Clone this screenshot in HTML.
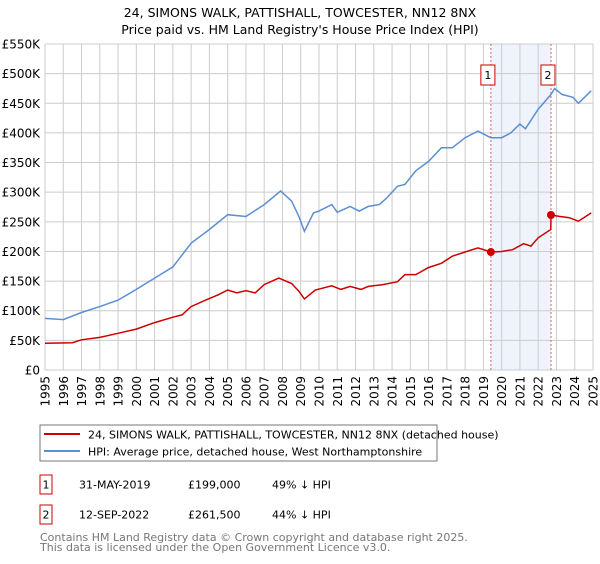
<!DOCTYPE html>
<html><head><meta charset="utf-8"><style>
body{margin:0;width:600px;height:560px;background:#fff;font-family:"DejaVu Sans","Liberation Sans",sans-serif;overflow:hidden}
</style></head><body>
<svg width="600" height="560" xmlns="http://www.w3.org/2000/svg" font-family="DejaVu Sans, Liberation Sans, sans-serif">
<text x="300" y="17" text-anchor="middle" font-size="12.5">24, SIMONS WALK, PATTISHALL, TOWCESTER, NN12 8NX</text>
<text x="300" y="34" text-anchor="middle" font-size="12.5">Price paid vs. HM Land Registry's House Price Index (HPI)</text>
<g id="grid"></g><g id="axes"></g><g id="series"></g>
<g>
<rect x="40" y="425" width="397" height="36" fill="#fff" stroke="#777"/>
<line x1="44" y1="434" x2="80" y2="434" stroke="#cc0000" stroke-width="2"/>
<text x="88" y="438.5" font-size="11">24, SIMONS WALK, PATTISHALL, TOWCESTER, NN12 8NX (detached house)</text>
<line x1="44" y1="451" x2="80" y2="451" stroke="#5b8fd3" stroke-width="2"/>
<text x="88" y="455.5" font-size="11">HPI: Average price, detached house, West Northamptonshire</text>
</g>
<g font-size="11">
<rect x="40" y="475" width="12" height="19" fill="#fff" stroke="#cc0000"/><text x="46" y="488.5" text-anchor="middle">1</text>
<text x="79" y="488.5">31-MAY-2019</text><text x="188" y="488.5">£199,000</text><text x="272" y="488.5">49% ↓ HPI</text>
<rect x="40" y="505" width="12" height="19" fill="#fff" stroke="#cc0000"/><text x="46" y="518.5" text-anchor="middle">2</text>
<text x="79" y="518.5">12-SEP-2022</text><text x="188" y="518.5">£261,500</text><text x="272" y="518.5">44% ↓ HPI</text>
</g>
<text x="40" y="541" font-size="11" fill="#777">Contains HM Land Registry data © Crown copyright and database right 2025.</text>
<text x="40" y="551" font-size="11" fill="#777">This data is licensed under the Open Government Licence v3.0.</text>
</svg>
<script>
const hpiYears=[1995,1996,1997,1998,1999,2000,2001,2002,2003,2004,2005,2006,2007,2007.9,2008.5,2008.9,2009.2,2009.7,2010,2010.7,2011,2011.7,2012.2,2012.7,2013.3,2013.7,2014.3,2014.7,2015.3,2016,2016.7,2017.3,2018,2018.7,2019.4,2020,2020.5,2021,2021.3,2022,2022.7,2022.9,2023.3,2023.9,2024.2,2024.9];
const hpiValues=[87,85,97,107,118,136,155,174,214,237,262,259,279,302,285,259,234,265,268,279,266,276,268,276,279,290,310,313,336,352,375,375,392,403,392,392,400,415,407,440,465,475,465,460,450,471];
const ppYears=[1995,1996.5,1997,1998,1999,2000,2001,2002,2002.5,2003,2003.8,2004.5,2005,2005.5,2006,2006.5,2007,2007.8,2008.5,2008.9,2009.2,2009.8,2010.7,2011.2,2011.7,2012.3,2012.7,2013.5,2014.3,2014.7,2015.3,2016,2016.7,2017.3,2018,2018.7,2019.41,2020,2020.6,2021.2,2021.6,2022,2022.69,2022.7,2023.2,2023.7,2024.2,2024.9];
const ppValues=[45,46,51,55,62,69,80,89,93,107,118,127,135,130,134,130,144,155,146,133,120,135,142,136,141,136,141,144,149,161,161,173,180,192,199,206,199,200,203,213,209,223,237,261.5,259,257,251,265];
const saleYears=[2019.41,2022.70];
const saleValues=[199,261.5];
const yTicks=[0,50,100,150,200,250,300,350,400,450,500,550];
const xTicks=[1995,1996,1997,1998,1999,2000,2001,2002,2003,2004,2005,2006,2007,2008,2009,2010,2011,2012,2013,2014,2015,2016,2017,2018,2019,2020,2021,2022,2023,2024,2025];
const X0=45,X1=593,Y0=370,Y1=44;
const xs=y=>X0+(y-1995)/30*(X1-X0);
const ys=v=>Y0-v/550*(Y0-Y1);
const NS='http://www.w3.org/2000/svg';
function mk(tag,attrs,parent,txt){const e=document.createElementNS(NS,tag);for(const k in attrs)e.setAttribute(k,attrs[k]);if(txt!==undefined)e.textContent=txt;parent.appendChild(e);return e;}
const grid=document.getElementById('grid'),axes=document.getElementById('axes'),series=document.getElementById('series');
const sh=mk('rect',{x:xs(saleYears[0]),y:Y1,width:xs(saleYears[1])-xs(saleYears[0]),height:Y0-Y1,fill:'#eef3fc'},grid);


yTicks.forEach(t=>{
 const l=mk('line',{x1:X0,x2:X1,y1:ys(t),y2:ys(t),stroke:'#cccccc'},grid);
 
 
 const tx=mk('text',{x:40,y:ys(t)+4.5,'text-anchor':'end','font-size':'12'},axes,t===0?'£0':'£'+t+'K');
 
 
});
xTicks.forEach(t=>{
 const l=mk('line',{x1:xs(t),x2:xs(t),y1:Y1,y2:Y0,stroke:'#cccccc'},grid);
 
 
 const tx=mk('text',{x:0,y:0,'text-anchor':'end','font-size':'12',transform:`translate(${xs(t)+4.5},376) rotate(-90)`},axes,String(t));
 
 
});
saleYears.forEach((y,i)=>{
 const l=mk('line',{x1:xs(y),x2:xs(y),y1:Y1,y2:Y0,stroke:'#e06060','stroke-dasharray':'2,2'},grid);
 
 
 const r=mk('rect',{x:xs(y)-10,y:65,width:14,height:20,fill:'#fff',stroke:'#cc0000'},axes);
 
 
 mk('text',{x:xs(y)-3,y:79,'text-anchor':'middle','font-size':'11'},axes,String(i+1));
});
function path(xa,va){return xa.map((y,i)=>(i?'L':'M')+xs(y).toFixed(1)+','+ys(va[i]).toFixed(1)).join('');}
const hp=mk('path',{d:path(hpiYears,hpiValues),fill:'none',stroke:'#5b8fd3','stroke-width':1.5},series);


const pp=mk('path',{d:path(ppYears,ppValues),fill:'none',stroke:'#cc0000','stroke-width':1.5},series);


saleYears.forEach((y,i)=>{
 const c=mk('circle',{cx:xs(y),cy:ys(saleValues[i]),r:4,fill:'#cc0000'},series);
 
 
});
</script>
</body></html>
